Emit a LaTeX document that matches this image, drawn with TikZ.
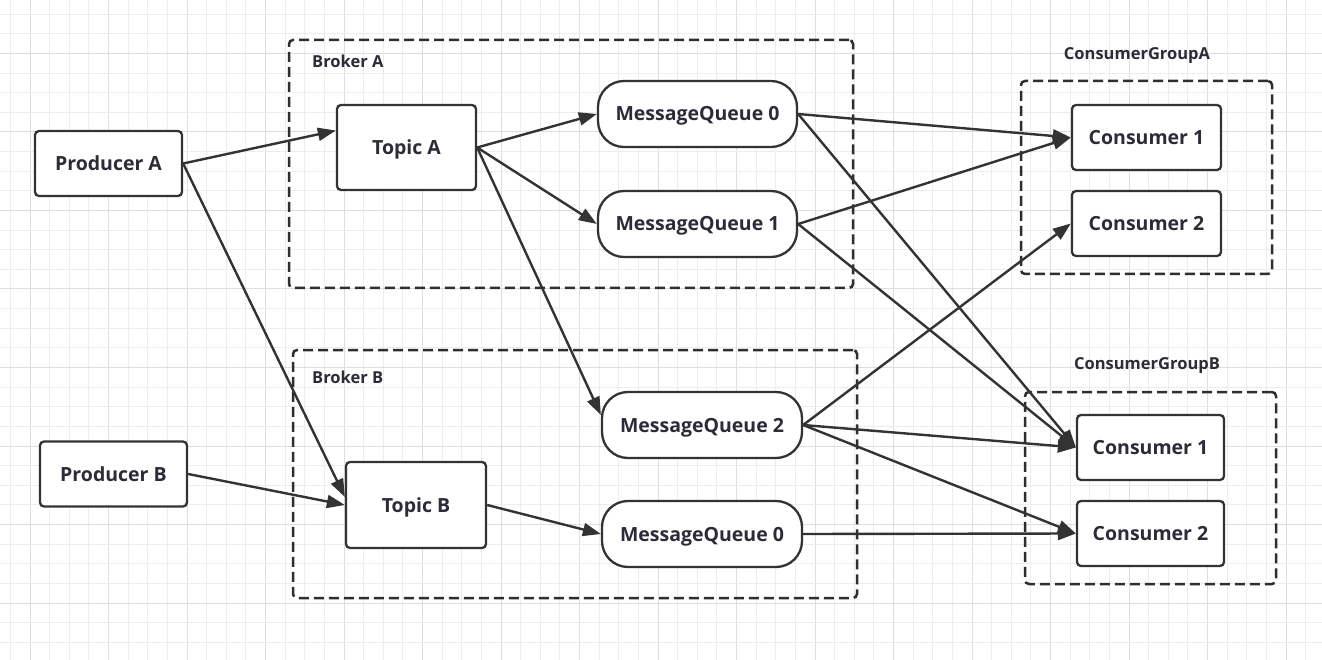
\documentclass[tikz,border=0pt]{standalone}
\usepackage{fontspec}
\setmainfont{Open Sans}
\usetikzlibrary{arrows.meta}
\definecolor{ink}{HTML}{333333}
\definecolor{txt}{HTML}{2C2C38}
\begin{document}
\begin{tikzpicture}[x=1pt, y=-1pt,
  every node/.style = {text=txt, inner sep=0pt},
  box/.style   = {draw=ink, line width=2.3pt, fill=white, rounded corners=4pt,
    minimum height=65pt, text height=14pt, text depth=0pt,
    font=\fontsize{19.5}{22}\selectfont\bfseries},
  queue/.style = {box, rounded corners=26pt, minimum width=199pt, minimum height=66pt},
  group/.style = {draw=ink!90!black, line width=2.5pt, dash pattern=on 10pt off 5pt,
    rounded corners=4pt},
  tag/.style   = {font=\fontsize{16.5}{19}\selectfont\bfseries},
  link/.style  = {draw=ink, line width=2.4pt, -{Triangle[length=18pt,width=13pt]}}]
% background grid
\useasboundingbox (0,0) rectangle (1322,660);
\fill[white] (0,0) rectangle (1322,660);
\foreach \i in {0,...,67}{
  \pgfmathsetmacro{\gx}{10.375+19.625*\i}
  \pgfmathtruncatemacro{\m}{mod(\i,4)}
  \ifnum\m=1 \draw[black!13, line width=1pt] (\gx,0) -- (\gx,660);
  \else \draw[black!7, line width=1pt] (\gx,0) -- (\gx,660); \fi
}
\foreach \i in {0,...,33}{
  \pgfmathsetmacro{\gy}{14.25+19.625*\i}
  \pgfmathtruncatemacro{\m}{mod(\i,4)}
  \ifnum\m=2 \draw[black!13, line width=1pt] (0,\gy) -- (1322,\gy);
  \else \draw[black!7, line width=1pt] (0,\gy) -- (1322,\gy); \fi
}
% groups
\node[group, minimum width=564pt, minimum height=248pt] (bra) at (571,164) {};
\node[group, minimum width=564pt, minimum height=248pt] (brb) at (575,474) {};
\node[group, minimum width=251pt, minimum height=193pt] (cga) at (1146.5,177.5) {};
\node[group, minimum width=251pt, minimum height=192pt] (cgb) at (1150.5,488) {};
\node[tag, anchor=west] (bral) at (312,61) {Broker A};
\node[tag, anchor=west] (brbl) at (312,377) {Broker B};
\node[tag] (cgal) at (1137,56) {ConsumerGroupA};
\node[tag] (cgbl) at (1147,366) {ConsumerGroupB};
% producers and topics
\node[box, minimum width=147pt] (pa) at (108.5,163.5) {Producer A};
\node[box, minimum width=147pt] (pb) at (113.5,474) {Producer B};
\node[box, minimum width=139pt, minimum height=85pt] (ta) at (406.5,147.5) {Topic A};
\node[box, minimum width=140pt, minimum height=86pt] (tb) at (416,505) {Topic B};
% queues
\node[queue] (qa0) at (697.5,114) {MessageQueue 0};
\node[queue] (qa1) at (697.5,224) {MessageQueue 1};
\node[queue, minimum width=200pt] (qb2) at (702,425) {MessageQueue 2};
\node[queue, minimum width=200pt] (qb0) at (702,534) {MessageQueue 0};
% consumers
\node[box, minimum width=149pt] (ca1) at (1146.5,137.5) {Consumer 1};
\node[box, minimum width=149pt] (ca2) at (1146.5,223.5) {Consumer 2};
\node[box, minimum width=147pt] (cb1) at (1150.5,447.5) {Consumer 1};
\node[box, minimum width=147pt] (cb2) at (1150.5,533.5) {Consumer 2};
% links
\draw[link] (pa.east) -- ([yshift=17pt]ta.west);
\draw[link] (pa.east) -- ([yshift=8pt]tb.west);
\draw[link] (pb.east) -- (tb.west);
\draw[link] (ta.east) -- (qa0.west);
\draw[link] (ta.east) -- (qa1.west);
\draw[link] (ta.east) -- ([yshift=10pt]qb2.west);
\draw[link] (tb.east) -- (qb0.west);
\draw[link] (qa0.east) -- (ca1.west);
\draw[link] (qa0.east) -- (cb1.west);
\draw[link] (qa1.east) -- (ca1.west);
\draw[link] (qa1.east) -- (cb1.west);
\draw[link] (qb2.east) -- (ca2.west);
\draw[link] (qb2.east) -- (cb1.west);
\draw[link] (qb2.east) -- (cb2.west);
\draw[link] (qb0.east) -- (cb2.west);
\end{tikzpicture}
\end{document}
